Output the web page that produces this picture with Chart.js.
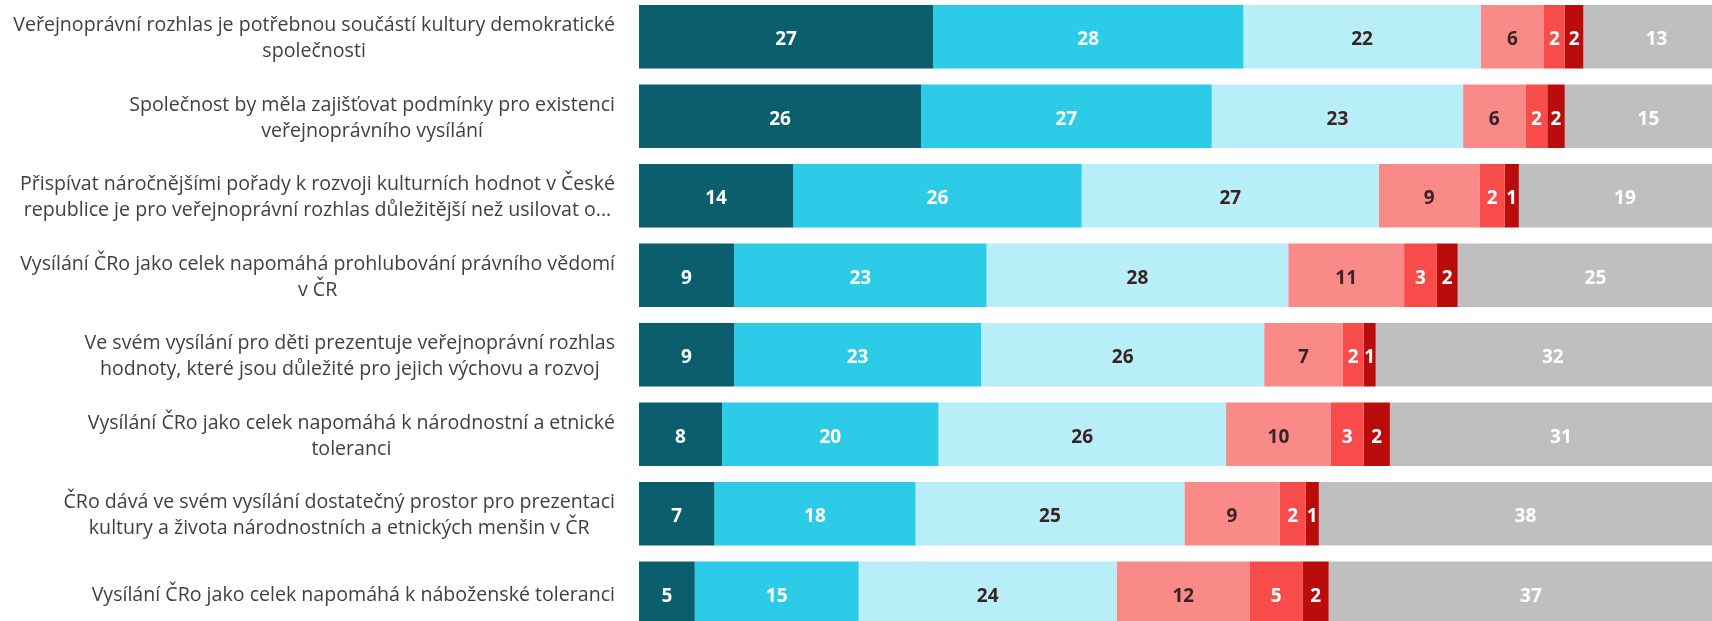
<!DOCTYPE html>
<html>
<head>
<meta charset="utf-8">
<script src="https://cdn.jsdelivr.net/npm/chart.js@4.4.1/dist/chart.umd.min.js"></script>
<style>
  html, body { margin: 0; padding: 0; background: #fff; overflow: hidden; width: 1712px; height: 621px; }
  #wrap { position: absolute; left: 0; top: -3px; }
</style>
</head>
<body>
<div id="wrap"><canvas id="chart" width="1732" height="636"></canvas></div>
<script>
const categories = [
  ['Veřejnoprávní rozhlas je potřebnou součástí kultury demokratické', 'společnosti'],
  ['Společnost by měla zajišťovat podmínky pro existenci', 'veřejnoprávního vysílání'],
  ['Přispívat náročnějšími pořady k rozvoji kulturních hodnot v České', 'republice je pro veřejnoprávní rozhlas důležitější než usilovat o...'],
  ['Vysílání ČRo jako celek napomáhá prohlubování právního vědomí', 'v ČR'],
  ['Ve svém vysílání pro děti prezentuje veřejnoprávní rozhlas', 'hodnoty, které jsou důležité pro jejich výchovu a rozvoj'],
  ['Vysílání ČRo jako celek napomáhá k národnostní a etnické', 'toleranci'],
  ['ČRo dává ve svém vysílání dostatečný prostor pro prezentaci', 'kultury a života národnostních a etnických menšin v ČR'],
  ['Vysílání ČRo jako celek napomáhá k náboženské toleranci']
];

const seriesNames = ['Rozhodně souhlasím', 'Souhlasím', 'Spíše souhlasím', 'Spíše nesouhlasím', 'Nesouhlasím', 'Rozhodně nesouhlasím', 'Nevím'];
const stronglyAgree    = [26.9, 25.8, 14.1, 8.7, 8.7, 7.6, 6.9, 5.1];
const agree            = [28.4, 26.6, 26.4, 23.1, 22.6, 19.8, 18.4, 15.0];
const ratherAgree      = [21.7, 23.0, 27.2, 27.6, 25.9, 26.3, 24.6, 23.6];
const ratherDisagree   = [5.8, 5.7, 9.2, 10.6, 7.2, 9.6, 8.7, 12.2];
const disagree         = [1.9, 2.0, 2.3, 3.0, 1.9, 3.0, 2.4, 4.8];
const stronglyDisagree = [1.7, 1.6, 1.3, 1.9, 1.1, 2.4, 1.2, 2.4];
const dontKnow         = [13.4, 15.3, 19.4, 25.2, 32.4, 31.3, 37.8, 37.0];

const colors      = ['#0B5E6D', '#2CCCE9', '#B8EEF7', '#FA8A88', '#F84C4B', '#B90C0B', '#BFBFBF'];
const labelColors = ['#FFFFFF', '#FFFFFF', '#3A2324', '#3A2324', '#FFFFFF', '#FFFFFF', '#FFFFFF'];

const allSeries = [stronglyAgree, agree, ratherAgree, ratherDisagree, disagree, stronglyDisagree, dontKnow];

// values in the middle of each segment
const valueLabels = {
  id: 'valueLabels',
  afterDatasetsDraw(chart) {
    const ctx = chart.ctx;
    ctx.save();
    ctx.font = 'bold 19px "Open Sans", sans-serif';
    ctx.textAlign = 'center';
    ctx.textBaseline = 'middle';
    chart.data.datasets.forEach((ds, i) => {
      chart.getDatasetMeta(i).data.forEach((bar, j) => {
        ctx.fillStyle = labelColors[i];
        ctx.fillText(Math.round(ds.data[j]), (bar.x + bar.base) / 2, bar.y + 3);
      });
    });
    ctx.restore();
  }
};

// category labels: block right aligned, lines centred inside the block
const categoryLabels = {
  id: 'categoryLabels',
  afterDraw(chart) {
    const ctx = chart.ctx;
    const yScale = chart.scales.y;
    const right = 615;
    const lineH = 26;
    ctx.save();
    ctx.font = '19.6px "Open Sans", sans-serif';
    ctx.fillStyle = '#404040';
    ctx.textAlign = 'center';
    ctx.textBaseline = 'middle';
    categories.forEach((lines, i) => {
      const cy = yScale.getPixelForTick(i) + 2;
      const w = Math.max(...lines.map(l => ctx.measureText(l).width));
      const cx = right - w / 2;
      lines.forEach((line, k) => {
        ctx.fillText(line, cx, cy + (k - (lines.length - 1) / 2) * lineH);
      });
    });
    ctx.restore();
  }
};

new Chart(document.getElementById('chart'), {
  type: 'bar',
  data: {
    labels: categories,
    datasets: allSeries.map((data, i) => ({
      label: seriesNames[i],
      data: data,
      backgroundColor: colors[i],
      borderWidth: 0,
      categoryPercentage: 1,
      barPercentage: 0.8
    }))
  },
  options: {
    indexAxis: 'y',
    responsive: false,
    animation: false,
    devicePixelRatio: 1,
    layout: { padding: 0 },
    plugins: {
      legend: { display: false },
      tooltip: { enabled: false }
    },
    scales: {
      x: { stacked: true, min: 0, max: 100, display: false },
      y: {
        stacked: true,
        grid: { display: false },
        border: { display: false },
        ticks: { display: false },
        afterFit: (scale) => { scale.width = 639; }
      }
    }
  },
  plugins: [valueLabels, categoryLabels]
});
</script>
</body>
</html>
